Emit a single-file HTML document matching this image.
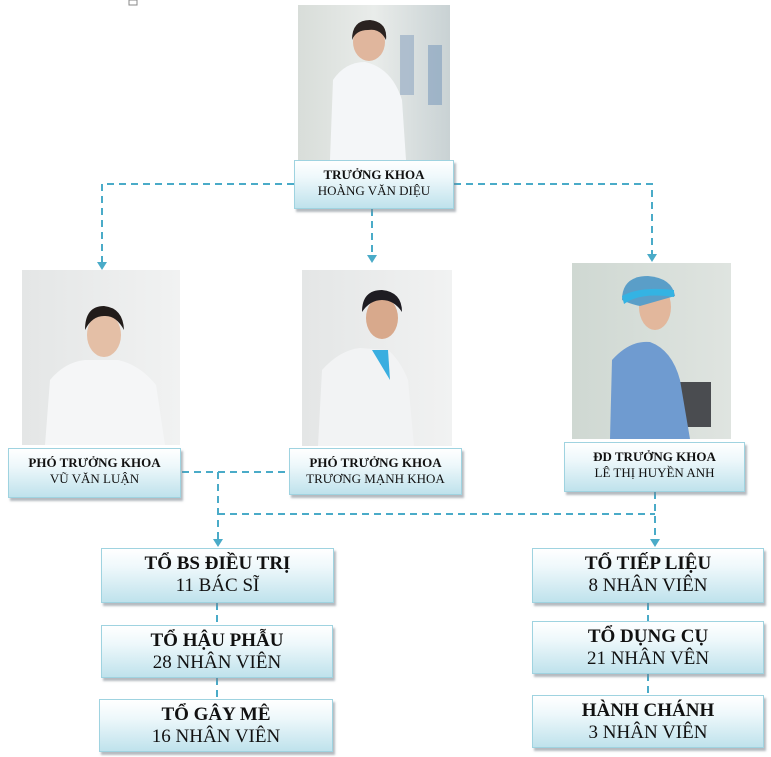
<!DOCTYPE html>
<html><head><meta charset="utf-8"><style>
html,body{margin:0;padding:0;background:#fff;}
body{width:771px;height:757px;position:relative;overflow:hidden;font-family:"Liberation Serif",serif;}
.b{position:absolute;box-sizing:border-box;border:1px solid #9fd3e0;background:linear-gradient(#ffffff 0%,#eef8fb 35%,#bfe2ec 100%);box-shadow:2px 3px 2px rgba(120,130,140,.55);text-align:center;color:#111;}
.s{font-size:13px;line-height:16px;padding-top:6px;}
.s b{font-size:13px;}
.l{font-size:19px;line-height:22px;padding-top:4px;}
svg{position:absolute;left:0;top:0;}
</style></head><body>
<svg width="771" height="757" viewBox="0 0 771 757">
<defs>
<linearGradient id="bg1" x1="0" x2="1"><stop offset="0" stop-color="#d8ddd9"/><stop offset=".5" stop-color="#e9ecea"/><stop offset="1" stop-color="#c9d2d4"/></linearGradient>
<linearGradient id="bg2" x1="0" x2="1"><stop offset="0" stop-color="#e4e6e6"/><stop offset="1" stop-color="#f1f2f2"/></linearGradient>
<linearGradient id="bg4" x1="0" x2="1"><stop offset="0" stop-color="#cfd8d2"/><stop offset="1" stop-color="#dfe4e0"/></linearGradient>
</defs>
<rect x="129" y="0" width="8" height="5" fill="none" stroke="#888"/>
<!-- photo 1 -->
<rect x="298" y="5" width="152" height="155" fill="url(#bg1)"/>
<rect x="400" y="35" width="14" height="60" fill="#8fa7c2" opacity=".6"/>
<rect x="428" y="45" width="14" height="60" fill="#7f9cbc" opacity=".6"/>
<path d="M330 160 L333 80 Q345 62 365 62 Q392 68 402 100 L406 160 Z" fill="#f4f6f8"/>
<ellipse cx="369" cy="42" rx="16" ry="19" fill="#e0b69d"/>
<path d="M352 40 Q352 20 370 20 Q388 22 386 40 Q380 28 368 30 Q356 30 352 40Z" fill="#2a2220"/>
<!-- photo 2 -->
<rect x="22" y="270" width="158" height="175" fill="url(#bg2)"/>
<path d="M45 445 L50 380 Q65 362 85 360 L118 360 Q140 365 156 385 L165 445 Z" fill="#f5f6f7"/>
<ellipse cx="104" cy="335" rx="17" ry="22" fill="#e4bfa6"/>
<path d="M85 330 Q85 306 104 306 Q123 308 124 330 Q116 315 104 316 Q92 316 85 330Z" fill="#221c1a"/>
<!-- photo 3 -->
<rect x="302" y="270" width="150" height="176" fill="url(#bg2)"/>
<path d="M318 446 L322 370 Q340 350 360 348 L388 350 Q400 360 408 380 L414 446 Z" fill="#f2f3f4"/>
<path d="M372 350 L388 350 L390 380 Z" fill="#3aaee0"/>
<ellipse cx="382" cy="318" rx="16" ry="21" fill="#d8a98c"/>
<path d="M362 312 Q362 290 382 290 Q402 292 402 312 Q394 300 382 300 Q370 300 362 312Z" fill="#1e1c22"/>
<!-- photo 4 -->
<rect x="572" y="263" width="159" height="176" fill="url(#bg4)"/>
<rect x="675" y="382" width="36" height="45" fill="#4a4c50"/>
<path d="M610 439 L612 360 Q630 340 650 342 Q672 350 680 380 L690 439 Z" fill="#6f9bd0"/>
<ellipse cx="655" cy="307" rx="16" ry="23" fill="#e2b79c"/>
<path d="M622 300 Q622 276 648 276 Q672 278 675 296 L640 306 Q630 304 622 300Z" fill="#5a9ec8"/>
<path d="M622 296 Q640 286 674 290 L674 297 Q640 292 624 304Z" fill="#34b3e3"/>
<g stroke="#4aabc8" stroke-width="2" stroke-dasharray="7,5" fill="none">
<path d="M294 184 H102 V262"/>
<path d="M454 184 H652 V256"/>
<path d="M372 209 V255"/>
<path d="M182 472 H290"/>
<path d="M218 472 V540"/>
<path d="M218 514 H655"/>
<path d="M655 492 V540"/>
<path d="M217 603 V625"/>
<path d="M217 678 V699"/>
<path d="M648 603 V621"/>
<path d="M648 674 V695"/>
</g>
<g fill="#4aabc8">
<path d="M97 262 L107 262 L102 270Z"/>
<path d="M367 255 L377 255 L372 263Z"/>
<path d="M647 254 L657 254 L652 262Z"/>
<path d="M213 539 L223 539 L218 547Z"/>
<path d="M650 539 L660 539 L655 547Z"/>
</g>
</svg>
<div class="b s" style="left:294px;top:160px;width:160px;height:49px;"><b>TRƯỞNG KHOA</b><br>HOÀNG VĂN DIỆU</div>
<div class="b s" style="left:8px;top:448px;width:173px;height:50px;"><b>PHÓ TRƯỞNG KHOA</b><br>VŨ VĂN LUẬN</div>
<div class="b s" style="left:289px;top:448px;width:173px;height:47px;"><b>PHÓ TRƯỞNG KHOA</b><br>TRƯƠNG MẠNH KHOA</div>
<div class="b s" style="left:564px;top:442px;width:181px;height:50px;"><b>ĐD TRƯỞNG KHOA</b><br>LÊ THỊ HUYỀN ANH</div>
<div class="b l" style="left:101px;top:548px;width:233px;height:55px;"><b>TỔ BS ĐIỀU TRỊ</b><br>11 BÁC SĨ</div>
<div class="b l" style="left:101px;top:625px;width:232px;height:53px;"><b>TỔ HẬU PHẪU</b><br>28 NHÂN VIÊN</div>
<div class="b l" style="left:99px;top:699px;width:234px;height:53px;"><b>TỔ GÂY MÊ</b><br>16 NHÂN VIÊN</div>
<div class="b l" style="left:532px;top:548px;width:232px;height:55px;"><b>TỔ TIẾP LIỆU</b><br>8 NHÂN VIÊN</div>
<div class="b l" style="left:532px;top:621px;width:232px;height:53px;"><b>TỔ DỤNG CỤ</b><br>21 NHÂN VÊN</div>
<div class="b l" style="left:532px;top:695px;width:232px;height:53px;"><b>HÀNH CHÁNH</b><br>3 NHÂN VIÊN</div>
</body></html>
